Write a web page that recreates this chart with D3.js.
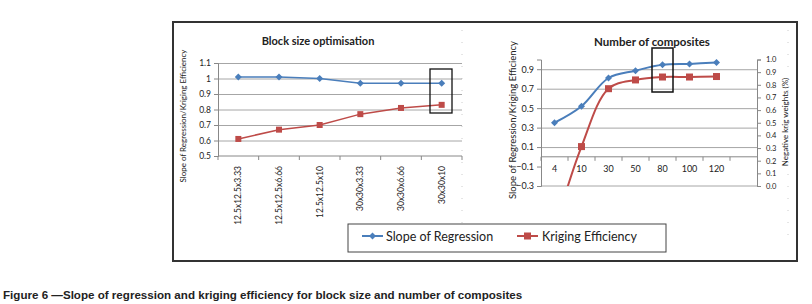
<!DOCTYPE html>
<html>
<head>
<meta charset="utf-8">
<script src="https://cdn.jsdelivr.net/npm/d3@7"></script>
<style>
  body { margin: 0; background: #fff; }
  svg text { font-family: Lato, "Open Sans", sans-serif; fill: #222; }
  .grid line { stroke: #a6a6a6; stroke-width: 1; }
  .grid path { display: none; }
  .axis path, .axis line { stroke: #888; }
  .caption { font-family: "Liberation Sans", Arial, sans-serif !important; font-weight: bold; }
</style>
</head>
<body>
<div id="chart"></div>
<script>
      // block size panel
      var blockCats = ["12.5x12.5x3.33", "12.5x12.5x6.66", "12.5x12.5x10", "30x30x3.33", "30x30x6.66", "30x30x10"];
      var blockSlope = [1.01, 1.01, 1.0, 0.97, 0.97, 0.97];
      var blockKrig = [0.61, 0.67, 0.70, 0.77, 0.81, 0.83];
      var blockTicks = [0.5, 0.6, 0.7, 0.8, 0.9, 1.0, 1.1];

      // composites panel
      var compCats = ["4", "10", "30", "50", "80", "100", "120"];
      var compSlope = [0.35, 0.52, 0.81, 0.885, 0.945, 0.955, 0.97];
      var compKrig = [-0.75, 0.105, 0.70, 0.79, 0.82, 0.82, 0.825];
      var compTicks = [-0.3, -0.1, 0.1, 0.3, 0.5, 0.7, 0.9];
      var negTicks = [0, 0.1, 0.2, 0.3, 0.4, 0.5, 0.6, 0.7, 0.8, 0.9, 1.0];

      var blue = "#4a7ebb", red = "#be4b48";

      var svg = d3.select("#chart").append("svg")
          .attr("width", 812)
          .attr("height", 304);

      // outer frame
      svg.append("rect")
          .attr("x", 173).attr("y", 22)
          .attr("width", 624).attr("height", 239)
          .attr("fill", "none")
          .attr("stroke", "#333")
          .attr("stroke-width", 2);

      // faint chart-area edges
      [462, 788].forEach(function(x) {
        svg.append("line")
            .attr("x1", x).attr("x2", x)
            .attr("y1", 30).attr("y2", 240)
            .attr("stroke", "#ccc")
            .attr("stroke-dasharray", "1,11");
      });

      function diamond(g, cx, cy) {
        g.append("path")
            .attr("d", "M" + cx + "," + (cy - 3.5) + "L" + (cx + 3.5) + "," + cy + "L" + cx + "," + (cy + 3.5) + "L" + (cx - 3.5) + "," + cy + "Z")
            .attr("fill", blue);
      }
      function square(g, cx, cy, s) {
        g.append("rect")
            .attr("x", cx - s / 2).attr("y", cy - s / 2)
            .attr("width", s).attr("height", s)
            .attr("fill", red);
      }

      ////// Block size optimisation /////////////////
      var xScale1 = d3.scaleBand().domain(blockCats).range([218, 462]);
      var yScale1 = d3.scaleLinear().domain([0.5, 1.1]).range([156, 63]);
      var cx1 = function(i) { return xScale1(blockCats[i]) + xScale1.bandwidth() / 2; };

      var p1 = svg.append("g");

      p1.append("g")
          .attr("class", "grid")
          .attr("transform", "translate(218,0)")
          .call(d3.axisLeft(yScale1).tickValues(blockTicks.slice(1)).tickSize(-244).tickFormat(""));

      p1.append("g")
          .attr("class", "axis")
          .attr("transform", "translate(218,0)")
          .call(d3.axisLeft(yScale1).tickValues(blockTicks).tickSize(4).tickPadding(3)
            .tickFormat(function(d) { return d3.format("")(d); }))
          .call(function(g) {
            g.selectAll("text").style("font-size", "8.5px").style("font-family", "Lato").attr("fill", "#222");
          });

      var xAxis1 = p1.append("g")
          .attr("class", "axis")
          .attr("transform", "translate(0,156)");
      xAxis1.append("line").attr("x1", 218).attr("x2", 462).attr("stroke", "#888");
      xAxis1.selectAll(".tk")
          .data(d3.range(blockCats.length + 1))
          .enter().append("line")
          .attr("x1", function(i) { return 218 + i * xScale1.step(); })
          .attr("x2", function(i) { return 218 + i * xScale1.step(); })
          .attr("y1", 0).attr("y2", 4)
          .attr("stroke", "#888");
      xAxis1.selectAll(".lbl")
          .data(blockCats)
          .enter().append("text")
          .attr("transform", function(d, i) { return "translate(" + (cx1(i) + 3) + ",10) rotate(-90)"; })
          .attr("text-anchor", "end")
          .style("font-size", "8.5px")
          .text(function(d) { return d; });

      var line1 = d3.line()
          .x(function(d, i) { return cx1(i); })
          .y(function(d) { return yScale1(d); });

      p1.append("path").datum(blockSlope).attr("d", line1)
          .attr("fill", "none").attr("stroke", blue).attr("stroke-width", 1.5);
      p1.append("path").datum(blockKrig).attr("d", line1)
          .attr("fill", "none").attr("stroke", red).attr("stroke-width", 1.5);
      blockSlope.forEach(function(v, i) { diamond(p1, cx1(i), yScale1(v)); });
      blockKrig.forEach(function(v, i) { square(p1, cx1(i), yScale1(v), 6); });

      p1.append("rect")
          .attr("x", 430).attr("y", 69).attr("width", 22).attr("height", 44)
          .attr("fill", "none").attr("stroke", "#111").attr("stroke-width", 1.3);

      p1.append("text")
          .attr("x", 318).attr("y", 45)
          .attr("text-anchor", "middle")
          .style("font-size", "11px").style("font-weight", "bold")
          .text("Block size optimisation");

      p1.append("text")
          .attr("transform", "translate(186,116) rotate(-90)")
          .attr("text-anchor", "middle")
          .style("font-size", "8px")
          .text("Slope of Regression/Kriging Efficiency");

      ////// Number of composites /////////////////
      var xScale2 = d3.scaleBand().domain(compCats).range([541, 730]);
      var yScale2 = d3.scaleLinear().domain([-0.3, 1.0]).range([186, 59.5]);
      var yScale2b = d3.scaleLinear().domain([0, 1]).range([186, 59.5]);
      var cx2 = function(i) { return xScale2(compCats[i]) + xScale2.bandwidth() / 2; };

      var p2 = svg.append("g");

      p2.append("g")
          .attr("class", "grid")
          .attr("transform", "translate(541,0)")
          .call(d3.axisLeft(yScale2).tickValues([0.1, 0.3, 0.5, 0.7, 0.9]).tickSize(-216).tickFormat(""));

      p2.append("line")
          .attr("x1", 541).attr("x2", 757)
          .attr("y1", 186).attr("y2", 186)
          .attr("stroke", "#a6a6a6");

      p2.append("g")
          .attr("class", "axis")
          .attr("transform", "translate(541,0)")
          .call(d3.axisLeft(yScale2).tickValues(compTicks).tickSize(4).tickPadding(3)
            .tickFormat(d3.format(".1f")))
          .call(function(g) {
            g.selectAll("text").style("font-size", "9px").attr("fill", "#222");
          });

      p2.append("g")
          .attr("class", "axis")
          .attr("transform", "translate(757,0)")
          .call(d3.axisRight(yScale2b).tickValues(negTicks).tickSize(4).tickPadding(5)
            .tickFormat(d3.format(".1f")))
          .call(function(g) {
            g.selectAll("text").style("font-size", "7.5px").attr("fill", "#222");
          });

      var xAxis2 = p2.append("g")
          .attr("class", "axis")
          .attr("transform", "translate(0," + yScale2(0) + ")");
      xAxis2.append("line").attr("x1", 541).attr("x2", 757).attr("stroke", "#999");
      xAxis2.selectAll(".tk")
          .data(d3.range(compCats.length + 1))
          .enter().append("line")
          .attr("x1", function(i) { return 541 + i * xScale2.step(); })
          .attr("x2", function(i) { return 541 + i * xScale2.step(); })
          .attr("y1", 0).attr("y2", 4)
          .attr("stroke", "#888");
      xAxis2.selectAll(".lbl")
          .data(compCats)
          .enter().append("text")
          .attr("x", function(d, i) { return cx2(i); })
          .attr("y", 15)
          .attr("text-anchor", "middle")
          .style("font-size", "9px")
          .text(function(d) { return d; });

      svg.append("clipPath").attr("id", "clip2")
          .append("rect").attr("x", 541).attr("y", 40).attr("width", 216).attr("height", 146);

      var line2 = d3.line()
          .x(function(d, i) { return cx2(i); })
          .y(function(d) { return yScale2(d); })
          .curve(d3.curveCatmullRom.alpha(0.5));

      var lines2 = p2.append("g").attr("clip-path", "url(#clip2)");
      lines2.append("path").datum(compSlope).attr("d", line2)
          .attr("fill", "none").attr("stroke", blue).attr("stroke-width", 2);
      lines2.append("path").datum(compKrig).attr("d", line2)
          .attr("fill", "none").attr("stroke", red).attr("stroke-width", 2);
      compSlope.forEach(function(v, i) { diamond(lines2, cx2(i), yScale2(v)); });
      compKrig.forEach(function(v, i) { square(lines2, cx2(i), yScale2(v), 7); });

      p2.append("rect")
          .attr("x", 652).attr("y", 48).attr("width", 21).attr("height", 44)
          .attr("fill", "none").attr("stroke", "#111").attr("stroke-width", 1.5);

      p2.append("text")
          .attr("x", 652).attr("y", 46)
          .attr("text-anchor", "middle")
          .style("font-size", "11.5px").style("font-weight", "bold")
          .text("Number of composites");

      p2.append("text")
          .attr("transform", "translate(516,120) rotate(-90)")
          .attr("text-anchor", "middle")
          .style("font-size", "9.5px")
          .text("Slope of Regression/Kriging Efficiency");

      p2.append("text")
          .attr("transform", "translate(788,122) rotate(-90)")
          .attr("text-anchor", "middle")
          .style("font-size", "8px")
          .text("Negative krig weights (%)");

      ////// legend /////////////////
      var legend = svg.append("g");
      legend.append("rect")
          .attr("x", 348).attr("y", 224).attr("width", 318).attr("height", 28)
          .attr("fill", "none").attr("stroke", "#444").attr("stroke-width", 1);
      legend.append("line").attr("x1", 362).attr("x2", 383).attr("y1", 236).attr("y2", 236)
          .attr("stroke", blue).attr("stroke-width", 2);
      diamond(legend, 372.5, 236);
      legend.append("text").attr("x", 386).attr("y", 240.5)
          .style("font-size", "12.5px").text("Slope of Regression");
      legend.append("line").attr("x1", 517).attr("x2", 538).attr("y1", 236).attr("y2", 236)
          .attr("stroke", red).attr("stroke-width", 2);
      square(legend, 527.5, 236, 7);
      legend.append("text").attr("x", 542).attr("y", 240.5)
          .style("font-size", "12.5px").text("Kriging Efficiency");

      ////// caption /////////////////
      svg.append("text")
          .attr("class", "caption")
          .attr("x", 3).attr("y", 299)
          .style("font-size", "11.6px")
          .text("Figure 6 \u2014Slope of regression and kriging efficiency for block size and number of composites");
</script>
</body>
</html>
